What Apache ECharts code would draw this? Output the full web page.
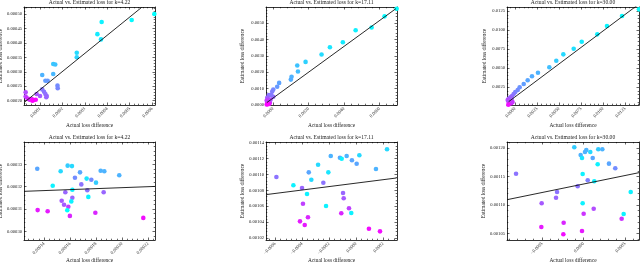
<!DOCTYPE html>
<html><head><meta charset="utf-8">
<script src="https://cdn.jsdelivr.net/npm/echarts@6/dist/echarts.min.js"></script>
<style>html,body{margin:0;padding:0;background:#fff}#c{width:640px;height:264px}</style>
</head><body><div id="c"></div>
<script>
const titles = [
  'Actual vs. Estimated loss for k=4.22',
  'Actual vs. Estimated loss for k=17.11',
  'Actual vs. Estimated loss for k=30.00',
  'Actual vs. Estimated loss for k=4.22',
  'Actual vs. Estimated loss for k=17.11',
  'Actual vs. Estimated loss for k=30.00'
];
const xAxisName = 'Actual loss difference';
const yAxisName = 'Estimated loss difference';

// [actual, estimated, colour level 0=cyan .. 1=magenta]
const tlPoints = [
  [0.000610,0.000500,0.00],[0.000509,0.000479,0.02],[0.000375,0.000472,0.05],[0.000356,0.000430,0.08],
  [0.000372,0.000412,0.10],[0.000264,0.000366,0.14],[0.000264,0.000350,0.17],[0.000159,0.000327,0.22],
  [0.000168,0.000325,0.24],[0.000159,0.000292,0.28],[0.000110,0.000289,0.30],[0.000124,0.000269,0.38],
  [0.000134,0.000269,0.40],[0.000178,0.000252,0.45],[0.000179,0.000243,0.47],[0.000110,0.000239,0.52],
  [0.000118,0.000231,0.54],[0.000124,0.000223,0.56],[0.000130,0.000216,0.58],[0.000128,0.000212,0.60],
  [0.000100,0.000216,0.64],[0.000085,0.000223,0.66],[0.000036,0.000229,0.70],[0.000036,0.000214,0.74],
  [0.000045,0.000207,0.84],[0.000054,0.000203,0.88],[0.000063,0.000206,0.90],[0.000072,0.000202,0.94],
  [0.000081,0.000203,0.97],[0.000066,0.000200,1.00]
];
const tlFit = [[0.000033,0.000196],[0.000554,0.000523]];
const tlXTicks = [0.0001,0.0002,0.0003,0.0004,0.0005,0.0006];
const tlYTicks = [0.00020,0.00025,0.00030,0.00035,0.00040,0.00045,0.00050];

const tmPoints = [
  [0.00697,0.00587,0.00],[0.00629,0.00541,0.02],[0.00556,0.00473,0.04],[0.00466,0.00456,0.06],
  [0.00394,0.00383,0.08],[0.00321,0.00352,0.10],[0.00274,0.00308,0.14],[0.00184,0.00263,0.18],
  [0.00137,0.00241,0.24],[0.00141,0.00204,0.26],[0.00105,0.00172,0.30],[0.00101,0.00155,0.32],
  [0.00035,0.00135,0.36],[0.00024,0.00111,0.40],[0.00002,0.00095,0.46],[-0.00004,0.00082,0.50],
  [-0.00023,0.00060,0.54],[0.00002,0.00050,0.58],[-0.00010,0.00062,0.52],[-0.00028,0.00034,0.66],
  [-0.00032,0.00044,0.62],[-0.00023,0.00023,0.74],[-0.00032,0.00013,0.82],[-0.00017,0.00013,0.80],
  [-0.00035,0.00003,0.96],[-0.00026,0.00034,0.68],[-0.00013,0.00034,0.70],[-0.00035,0.00027,0.76],
  [-0.00021,0.00007,0.92],[-0.00030,0.00005,1.00]
];
const tmFit = [[-0.00034,0.00015],[0.00693,0.00588]];
const tmXTicks = [0.0000,0.0020,0.0040,0.0060];
const tmYTicks = [0.0000,0.0010,0.0020,0.0030,0.0040,0.0050];

const trPoints = [
  [0.01409,0.01272,0.00],[0.01216,0.01184,0.02],[0.01045,0.01053,0.04],[0.00935,0.00943,0.06],
  [0.00758,0.00846,0.08],[0.00667,0.00754,0.12],[0.00549,0.00680,0.15],[0.00469,0.00596,0.20],
  [0.00390,0.00509,0.25],[0.00261,0.00438,0.30],[0.00193,0.00391,0.32],[0.00144,0.00338,0.35],
  [0.00099,0.00289,0.38],[0.00053,0.00246,0.42],[0.00031,0.00211,0.45],[0.00003,0.00184,0.48],
  [-0.00015,0.00158,0.52],[-0.00034,0.00132,0.56],[-0.00053,0.00114,0.60],[-0.00072,0.00096,0.64],
  [-0.00060,0.00079,0.68],[-0.00045,0.00062,0.72],[-0.00076,0.00062,0.76],[-0.00053,0.00043,0.80],
  [-0.00068,0.00030,0.86],[-0.00038,0.00092,0.62],[-0.00083,0.00079,0.70],[-0.00042,0.00036,0.84],
  [-0.00076,0.00017,0.95],[-0.00028,0.00053,0.78]
];
const trFit = [[-0.00072,0.00057],[0.01409,0.01342]];
const trXTicks = [0.0000,0.0025,0.0050,0.0075,0.0100,0.0125];
const trYTicks = [0.0025,0.0050,0.0075,0.0100,0.0125];

const blPoints = [
  [0.0001348,0.0003280,0.35],[0.0001528,0.0003269,0.15],[0.0001582,0.0003294,0.20],[0.0001615,0.0003292,0.15],
  [0.0001677,0.0003264,0.35],[0.0001638,0.0003240,0.45],[0.0001728,0.0003236,0.10],[0.0001764,0.0003231,0.45],
  [0.0001800,0.0003218,0.20],[0.0001836,0.0003271,0.30],[0.0001864,0.0003269,0.30],[0.0001979,0.0003251,0.30],
  [0.0001467,0.0003204,0.05],[0.0001687,0.0003210,0.55],[0.0001618,0.0003186,0.05],[0.0001733,0.0003184,0.55],
  [0.0001564,0.0003175,0.60],[0.0001859,0.0003175,0.60],[0.0001741,0.0003154,0.05],[0.0001618,0.0003150,0.60],
  [0.0001536,0.0003137,0.65],[0.0001610,0.0003134,0.05],[0.0001554,0.0003119,0.65],[0.0001587,0.0003110,0.75],
  [0.0001579,0.0003094,0.00],[0.0001351,0.0003095,0.90],[0.0001428,0.0003090,0.90],[0.0001599,0.0003069,0.85],
  [0.0001795,0.0003083,0.85],[0.0002164,0.0003060,0.95]
];
const blFit = [[0.0001246,0.0003179],[0.0002254,0.0003201]];
const blXTicks = [0.00014,0.00016,0.00018,0.00020,0.00022];
const blYTicks = [0.00030,0.00031,0.00032,0.00033];

const bmPoints = [
  [-0.000590,0.0010968,0.55],[-0.000464,0.0010864,0.05],[-0.000400,0.0010830,0.60],[-0.000350,0.0011027,0.35],
  [-0.000331,0.0010934,0.15],[-0.000363,0.0010754,0.05],[-0.000281,0.0011123,0.15],[-0.000242,0.0010896,0.55],
  [-0.000205,0.0011027,0.10],[-0.000187,0.0011233,0.30],[-0.000119,0.0011211,0.35],[-0.000106,0.0011199,0.05],
  [-0.000069,0.0011233,0.30],[-0.000030,0.0011179,0.35],[0.000005,0.0011136,0.35],[0.000025,0.0011242,0.15],
  [0.000148,0.0011069,0.30],[0.000230,0.0011317,0.15],[-0.000096,0.0010767,0.60],[-0.000091,0.0010700,0.65],
  [-0.000393,0.0010632,0.75],[-0.000222,0.0010603,0.05],[-0.000109,0.0010511,0.85],[-0.000052,0.0010574,0.75],
  [-0.000035,0.0010515,0.05],[-0.000356,0.0010461,0.85],[-0.000415,0.0010410,0.90],[-0.000380,0.0010364,0.90],
  [0.000096,0.0010317,0.95],[0.000178,0.0010284,0.95]
];
const bmFit = [[-0.000664,0.0010747],[0.000301,0.0010956]];
const bmXTicks = [-0.0006,-0.0004,-0.0002,0.0000,0.0002];
const bmYTicks = [0.00102,0.00104,0.00106,0.00108,0.00110,0.00112,0.00114];

const brPoints = [
  [-0.000813,0.0011549,0.55],[-0.000504,0.0011030,0.65],[-0.000331,0.0011128,0.60],[-0.000319,0.0011228,0.55],
  [-0.000508,0.0010614,0.90],[-0.000239,0.0010689,0.85],[-0.000243,0.0010486,0.95],[-0.000111,0.0012012,0.20],
  [-0.000034,0.0011877,0.30],[-0.000018,0.0011825,0.10],[0.000018,0.0011930,0.30],[0.000034,0.0011965,0.30],
  [0.000082,0.0011930,0.15],[0.000111,0.0011825,0.35],[0.000178,0.0011977,0.20],[0.000227,0.0011977,0.30],
  [0.000171,0.0011714,0.05],[0.000307,0.0011725,0.35],[0.000383,0.0011644,0.45],[-0.000010,0.0011544,0.05],
  [0.000051,0.0011433,0.50],[0.000130,0.0011416,0.05],[-0.000070,0.0011328,0.55],[-0.000010,0.0011030,0.05],
  [0.000002,0.0010847,0.80],[0.000123,0.0010935,0.70],[-0.000018,0.0010544,0.90],[0.000460,0.0010760,0.80],
  [0.000484,0.0010842,0.05],[0.000569,0.0011228,0.05]
];
const brFit = [[-0.000922,0.0011093],[0.000669,0.0011567]];
const brXTicks = [-0.0005,0.0000,0.0005];
const brYTicks = [0.00105,0.00110,0.00115,0.00120];

const FONT = 'Liberation Serif';
const panels = [
  {pts:tlPoints, fit:tlFit, xt:tlXTicks, yt:tlYTicks, xd:4, yd:5, box:[24,7,131,98],  xr:[0.0000286,0.000613], yr:[0.000185,0.000524], yGap:18},
  {pts:tmPoints, fit:tmFit, xt:tmXTicks, yt:tmYTicks, xd:4, yd:4, box:[266,7,131,98], xr:[-0.00039,0.00699], yr:[0,0.00598], yGap:21},
  {pts:trPoints, fit:trFit, xt:trXTicks, yt:trYTicks, xd:4, yd:4, box:[507,7,132,98], xr:[-0.00091,0.01409], yr:[0.00013,0.01303], yGap:20},
  {pts:blPoints, fit:blFit, xt:blXTicks, yt:blYTicks, xd:5, yd:5, box:[24,142,131,98], xr:[0.0001246,0.0002254], yr:[0.0002961,0.0003400], yGap:18},
  {pts:bmPoints, fit:bmFit, xt:bmXTicks, yt:bmYTicks, xd:4, yd:5, box:[266,142,131,98], xr:[-0.000667,0.000304], yr:[0.0010175,0.0011409], yGap:21},
  {pts:brPoints, fit:brFit, xt:brXTicks, yt:brYTicks, xd:4, yd:5, box:[507,142,132,98], xr:[-0.000922,0.000669], yr:[0.0010386,0.0012105], yGap:20}
];

function fmt(v, d) { return v.toFixed(d).replace('-', '\u2212'); }
function inRange(vals, r) { const e = (r[1]-r[0])*1e-6; return vals.filter(v => v >= r[0]-e && v <= r[1]+e); }
function minors(majors, r) {
  const step = (majors[1]-majors[0])/5, out = [];
  const k0 = Math.ceil((r[0]-majors[0])/step), k1 = Math.floor((r[1]-majors[0])/step);
  for (let k = k0; k <= k1; k++) { if (((k%5)+5)%5 !== 0) out.push(majors[0]+k*step); }
  return out;
}
const lineSt = {color:'#000', width:0.8};
const tickSt = {color:'#000', width:0.6};
const txt = {fontFamily:FONT, color:'#222'};

const grid = [], xAxis = [], yAxis = [], series = [], graphic = [], scatterIdx = [];
panels.forEach((p, gi) => {
  const [l, t, w, h] = p.box;
  grid.push({left:l, top:t, width:w, height:h, containLabel:false, outerBoundsMode:'none', show:false});
  const xm = inRange(p.xt, p.xr), ym = inRange(p.yt, p.yr);
  const xn = minors(p.xt, p.xr), yn = minors(p.yt, p.yr);
  const base = (pos, r) => ({type:'value', gridIndex:gi, position:pos, min:r[0], max:r[1], splitLine:{show:false}, silent:true});
  const xMainIdx = xAxis.length;
  xAxis.push(Object.assign(base('bottom', p.xr), {
    axisLine:{show:true, onZero:false, lineStyle:lineSt},
    axisTick:{show:true, inside:true, length:2.5, customValues:xm, lineStyle:tickSt},
    axisLabel:Object.assign({show:true, customValues:xm, rotate:45, margin:3, fontSize:4.6, formatter:v=>fmt(v,p.xd)}, txt),
    name:xAxisName, nameLocation:'middle', nameGap:18, nameTextStyle:Object.assign({fontSize:5.4}, txt)
  }));
  xAxis.push(Object.assign(base('bottom', p.xr), {axisLine:{show:false, onZero:false}, axisTick:{show:true, inside:true, length:1.3, customValues:xn, lineStyle:tickSt}, axisLabel:{show:false}}));
  xAxis.push(Object.assign(base('top', p.xr), {axisLine:{show:true, onZero:false, lineStyle:lineSt}, axisTick:{show:true, inside:true, length:2.5, customValues:xm, lineStyle:tickSt}, axisLabel:{show:false}}));
  xAxis.push(Object.assign(base('top', p.xr), {axisLine:{show:false, onZero:false}, axisTick:{show:true, inside:true, length:1.3, customValues:xn, lineStyle:tickSt}, axisLabel:{show:false}}));
  const yMainIdx = yAxis.length;
  yAxis.push(Object.assign(base('left', p.yr), {
    axisLine:{show:true, onZero:false, lineStyle:lineSt},
    axisTick:{show:true, inside:true, length:2.5, customValues:ym, lineStyle:tickSt},
    axisLabel:Object.assign({show:true, customValues:ym, margin:2, fontSize:4.6, formatter:v=>fmt(v,p.yd)}, txt),
    name:yAxisName, nameLocation:'middle', nameRotate:90, nameGap:p.yGap, nameTextStyle:Object.assign({fontSize:5.4}, txt)
  }));
  yAxis.push(Object.assign(base('left', p.yr), {axisLine:{show:false, onZero:false}, axisTick:{show:true, inside:true, length:1.3, customValues:yn, lineStyle:tickSt}, axisLabel:{show:false}}));
  yAxis.push(Object.assign(base('right', p.yr), {axisLine:{show:true, onZero:false, lineStyle:lineSt}, axisTick:{show:true, inside:true, length:2.5, customValues:ym, lineStyle:tickSt}, axisLabel:{show:false}}));
  yAxis.push(Object.assign(base('right', p.yr), {axisLine:{show:false, onZero:false}, axisTick:{show:true, inside:true, length:1.3, customValues:yn, lineStyle:tickSt}, axisLabel:{show:false}}));
  scatterIdx.push(series.length);
  series.push({type:'scatter', xAxisIndex:xMainIdx, yAxisIndex:yMainIdx, data:p.pts, symbolSize:4.6, clip:true, itemStyle:{opacity:1}, silent:true});
  series.push({type:'line', xAxisIndex:xMainIdx, yAxisIndex:yMainIdx, data:p.fit, symbol:'none', clip:true, lineStyle:{color:'#111', width:0.9}, silent:true, z:3});
  graphic.push({type:'text', x:l + w/2, y:t - 4.2, style:{text:titles[gi], fontFamily:FONT, fontSize:5.6, fill:'#222', textAlign:'center', textVerticalAlign:'middle'}});
});

const chart = echarts.init(document.getElementById('c'), null, {renderer:'canvas'});
chart.setOption({
  animation:false,
  backgroundColor:'#fff',
  grid, xAxis, yAxis, series, graphic,
  visualMap:{type:'continuous', show:false, dimension:2, min:0, max:1, seriesIndex:scatterIdx, inRange:{color:['#00ffff','#ff00ff']}}
});
</script></body></html>
